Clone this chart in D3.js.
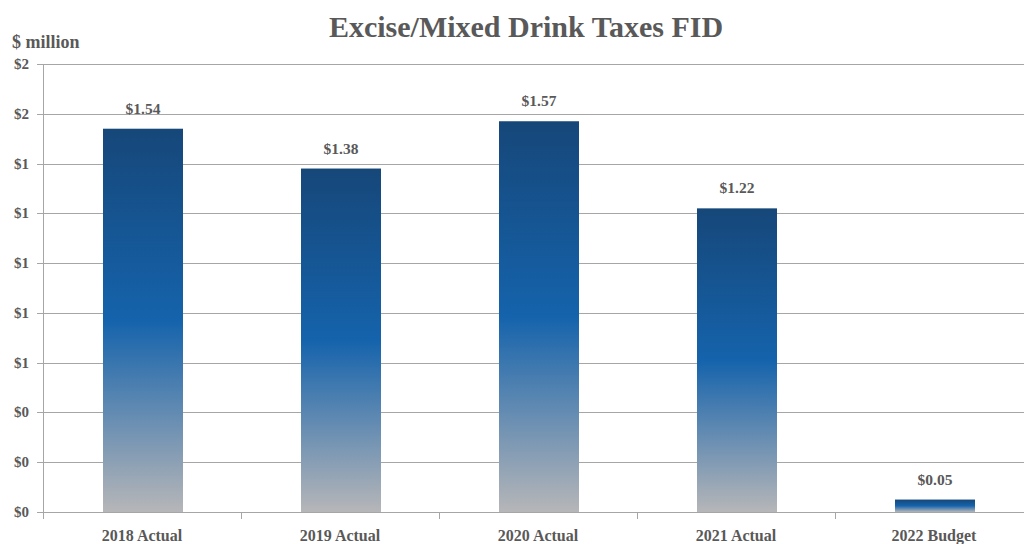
<!DOCTYPE html>
<html><head><meta charset="utf-8">
<script src="https://cdn.jsdelivr.net/npm/d3@7"></script>
<style>
body{margin:0;background:#fff;}
svg text{font-family:"Liberation Serif","DejaVu Serif",serif;font-weight:bold;fill:#595959;}
</style></head>
<body><svg id="c" width="1024" height="544"></svg>
<script>
const categories = ["2018 Actual","2019 Actual","2020 Actual","2021 Actual","2022 Budget"];
const values = [1.54, 1.38, 1.57, 1.22, 0.05];
const labels = ["$1.54","$1.38","$1.57","$1.22","$0.05"];
const yTicks = [0,0.2,0.4,0.6,0.8,1.0,1.2,1.4,1.6,1.8];

const svg = d3.select("#c");
const m = {l:43, t:64, b:512, r:1033};
const x = d3.scaleBand().domain(categories).range([m.l+1, m.r+1]).paddingInner(0.596).paddingOuter(0.298);
const xb = d3.scaleBand().domain(categories).range([m.l, m.r]);
const y = d3.scaleLinear().domain([0,1.8]).range([m.b, m.t]);

const defs = svg.append("defs");
const g = defs.append("linearGradient").attr("id","bg").attr("x1",0).attr("x2",0).attr("y1",0).attr("y2",1);
g.append("stop").attr("offset","0%").attr("stop-color","#164779");
g.append("stop").attr("offset","50%").attr("stop-color","#1563ac");
g.append("stop").attr("offset","100%").attr("stop-color","#b6b6b8");

// gridlines
svg.append("g").selectAll("line").data(yTicks).join("line")
  .attr("x1",37).attr("x2",1024).attr("y1",d=>Math.round(y(d))+0.5).attr("y2",d=>Math.round(y(d))+0.5)
  .attr("stroke","#a6a6a6").attr("stroke-width",1);

// y axis line
svg.append("line").attr("x1",m.l+0.5).attr("x2",m.l+0.5).attr("y1",m.t).attr("y2",m.b+7)
  .attr("stroke","#a6a6a6");

// category ticks
svg.append("g").selectAll("line").data(categories.slice(1)).join("line")
  .attr("x1",d=>Math.round(xb(d))+0.5).attr("x2",d=>Math.round(xb(d))+0.5)
  .attr("y1",m.b).attr("y2",m.b+7).attr("stroke","#a6a6a6");

// y tick labels
svg.append("g").selectAll("text").data(yTicks).join("text")
  .attr("x",29).attr("y",d=>y(d)+5).attr("text-anchor","end").attr("font-size",15)
  .text(d=>"$"+d3.format(".0f")(d));

svg.append("text").attr("x",12).attr("y",48).attr("font-size",18).text("$ million");

// bars
svg.append("g").selectAll("rect").data(values).join("rect")
  .attr("x",(d,i)=>x(categories[i])).attr("width",x.bandwidth())
  .attr("y",d=>y(d)).attr("height",d=>y(0)-y(d))
  .attr("fill","url(#bg)");

// value labels
svg.append("g").selectAll("text").data(values).join("text")
  .attr("x",(d,i)=>x(categories[i])+x.bandwidth()/2).attr("y",d=>y(d)-15)
  .attr("text-anchor","middle").attr("font-size",15.5).text((d,i)=>labels[i]);

// x labels
svg.append("g").selectAll("text").data(categories).join("text")
  .attr("x",d=>xb(d)+xb.bandwidth()/2).attr("y",541)
  .attr("text-anchor","middle").attr("font-size",16).text(d=>d);

svg.append("text").attr("x",526).attr("y",37).attr("text-anchor","middle")
  .attr("font-size",30).text("Excise/Mixed Drink Taxes FID");
</script></body></html>
